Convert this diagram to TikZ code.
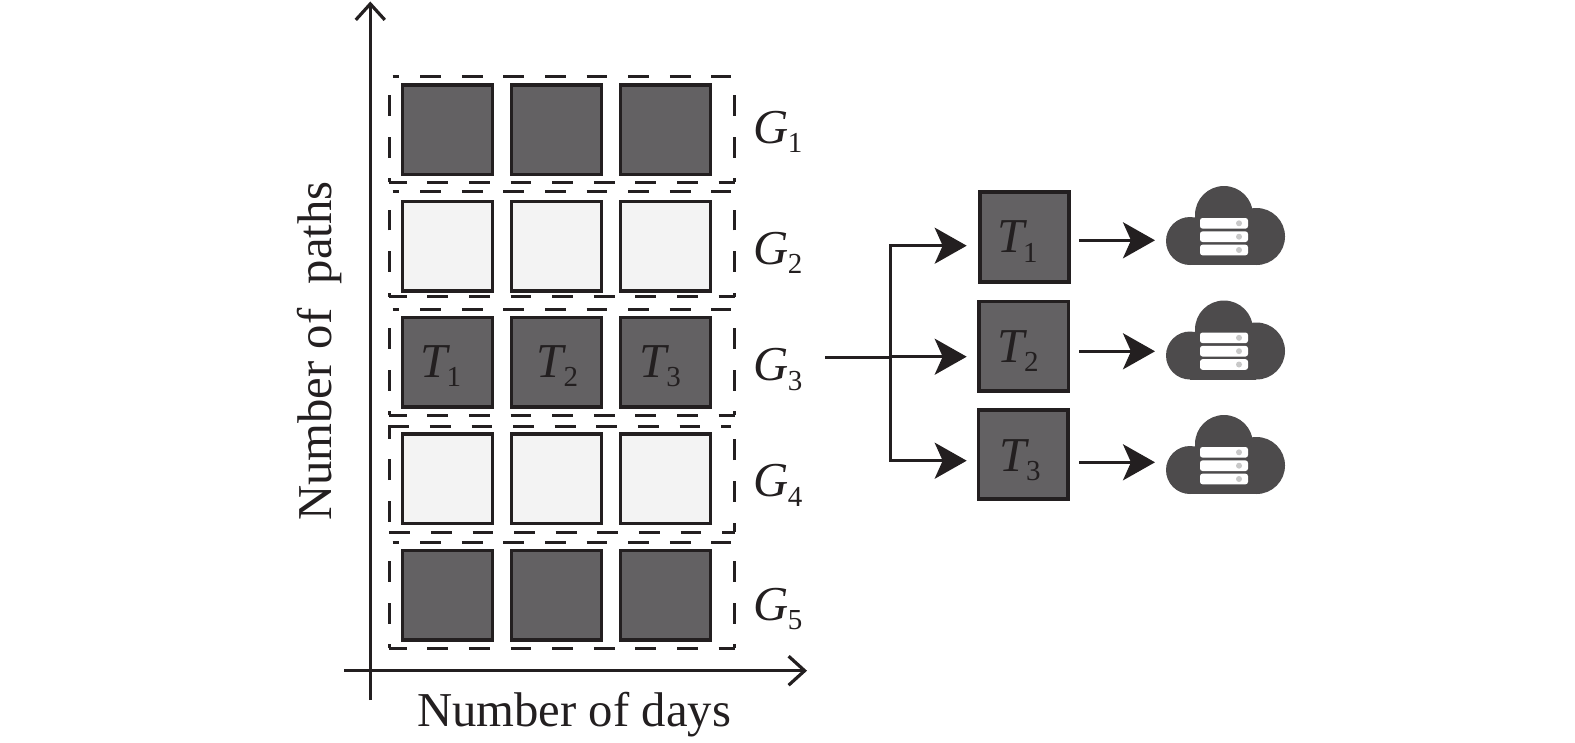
\documentclass[tikz,border=0pt]{standalone}
\usepackage{fontspec}
\setmainfont{Liberation Serif}
\usetikzlibrary{arrows.meta}
\definecolor{dk}{HTML}{636163}
\definecolor{lt}{HTML}{F3F3F3}
\definecolor{ink}{HTML}{231F20}
\definecolor{cl}{HTML}{4D4B4C}
\definecolor{dt}{HTML}{C8C8C8}
\tikzset{
  x=1pt,y=-1pt,
  cell/.style={draw=ink,line width=3.4pt,minimum size=89.6pt,inner sep=0pt,anchor=north west,outer sep=0pt},
  dkcell/.style={cell,fill=dk},
  ltcell/.style={cell,fill=lt},
  tcell/.style={draw=ink,line width=3.8pt,fill=dk,minimum size=89.4pt,inner sep=0pt,outer sep=0pt},
  gdash/.style={draw=ink,line width=3pt},
  axisline/.style={draw=ink,line width=3.2pt,-{Straight Barb[length=16pt,width=29pt,line width=3.2pt]}},
  flow/.style={draw=ink,line width=3pt},
  flowarrow/.style={flow,-{Stealth[length=32pt,width=36pt,inset=8pt]}},
  lab/.style={text=ink,font=\fontsize{48.7}{48.7}\selectfont,inner sep=0pt,anchor=base west},
}
\newcommand{\sym}[3]{\textit{#1}\raisebox{-9.7pt}{\hspace{#3}\fontsize{29}{29}\selectfont #2}}
% top, bottom, top start x, top phase, bottom phase, left phase, right phase
\newcommand{\gbox}[7]{%
  \draw[gdash,dash pattern=on 20.8pt off 20.8pt,dash phase=#4] (#3,#1) -- (730.7,#1);
  \draw[gdash,dash pattern=on 20.8pt off 20.8pt,dash phase=#5] (389.3,#2) -- (734.7,#2);
  \draw[gdash,dash pattern=on 20.8pt off 20.8pt,dash phase=#6] (389.3,#2) -- (389.3,#1);
  \draw[gdash,dash pattern=on 20.8pt off 20.8pt,dash phase=#7] (734.7,#2) -- (734.7,#1);
}
\newcommand{\cloudicon}[1]{%
  \begin{scope}[yshift=-#1pt]
    \fill[cl] (1190,241) circle[radius=24] (1224,215) circle[radius=29] (1256.5,236.5) circle[radius=28.5];
    \fill[cl] (1190,218) rectangle (1256,265);
    \foreach \yy in {223.3,236.7,250}{
      \fill[white,rounded corners=2.5pt] (1200,\yy-5.3) rectangle (1248,\yy+5.3);
      \fill[dt] (1239,\yy) circle[radius=3];
    }
  \end{scope}
}
\begin{document}
\begin{tikzpicture}
\useasboundingbox (0,0) rectangle (1575,742);
% axes
\coordinate (yb) at (370.3,700);
\coordinate (yt) at (370.3,1.5);
\coordinate (xl) at (344.3,670.7);
\coordinate (xr) at (807,670.7);
\draw[axisline] (yb) -- (yt);
\draw[axisline] (xl) -- (xr);
% dashed groups
\gbox{76.3}{182.3}{392.7}{14.1}{3.5}{16.8}{16.8}
\gbox{191.3}{296.7}{392.7}{14.1}{3.5}{16.8}{16.8}
\gbox{309.3}{415.3}{392.7}{14.1}{3.5}{16.8}{16.8}
\gbox{426}{532.3}{388.3}{0}{0}{31}{11}
\gbox{542.3}{648.3}{392.7}{14.1}{3.5}{16.8}{16.8}
% cells
\foreach \nm/\yy/\st in {a/84.8/dkcell,b/201.5/ltcell,c/317.5/dkcell,d/433.8/ltcell,e/550.5/dkcell}{
  \node[\st] (\nm1) at (402.7,\yy) {};
  \node[\st] (\nm2) at (511.7,\yy) {};
  \node[\st] (\nm3) at (620.7,\yy) {};
}
\node[lab] (gt1) at (420.5,377) {\sym{T}{1}{-4pt}};
\node[lab] (gt2) at (536.5,377) {\sym{T}{2}{-3pt}};
\node[lab] (gt3) at (639.2,377) {\sym{T}{3}{-3pt}};
% group labels
\node[lab] (g1) at (753.5,143) {\sym{G}{1}{-1pt}};
\node[lab] (g2) at (753.5,264) {\sym{G}{2}{-1pt}};
\node[lab] (g3) at (753.5,380.7) {\sym{G}{3}{-1pt}};
\node[lab] (g4) at (753.5,496.7) {\sym{G}{4}{-1pt}};
\node[lab] (g5) at (753.5,620) {\sym{G}{5}{-1pt}};
% right tasks
\node[tcell] (t1) at (1024.3,237) {};
\node[tcell] (t2) at (1023.8,346.2) {};
\node[tcell] (t3) at (1023.2,454.5) {};
\node[lab] (tl1) at (997,252.5) {\sym{T}{1}{-4pt}};
\node[lab] (tl2) at (997,362) {\sym{T}{2}{-3pt}};
\node[lab] (tl3) at (999,471) {\sym{T}{3}{-3pt}};
% connectors
\coordinate (src) at (825,357.3);
\coordinate (bus) at (890.3,357.3);
\coordinate (bt) at (890.3,245.7);
\coordinate (bb) at (890.3,460.7);
\draw[flow] (src) -- (bus);
\draw[flow,line cap=rect] (bt) -- (bb);
\draw[flowarrow] (bt) -- (966.7,245.7);
\draw[flowarrow] (bus|-0,356.7) -- (966.7,356.7);
\draw[flowarrow] (bb) -- (966.7,460.7);
\foreach \yy in {240.3,351.3,462.3}{
  \draw[flowarrow] (1079.3,\yy) -- (1155,\yy);
}
% clouds
\cloudicon{0}
\cloudicon{114.5}
\cloudicon{229}
% axis labels
\node[lab] (xlab) at (417,726) {Number of days};
\node[lab,rotate=90] (ylab) at (331,521) {Number of\ \ paths};
\end{tikzpicture}
\end{document}
